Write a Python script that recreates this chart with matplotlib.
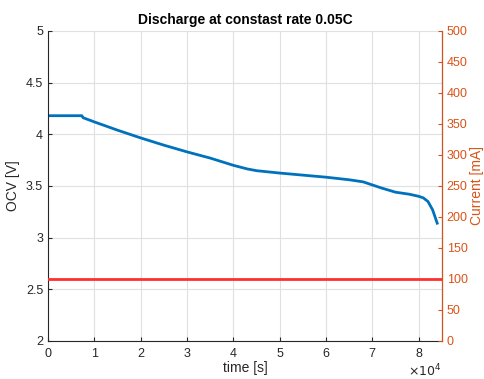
import matplotlib
matplotlib.use("Agg")
import matplotlib.pyplot as plt
import numpy as np

plt.rcParams['font.family'] = ['Liberation Sans', 'DejaVu Sans']

# Open-circuit voltage during discharge
time_s = [0, 7000, 7300, 7600, 10000, 15000, 20000, 25000, 30000, 35000,
          40000, 43000, 45000, 50000, 55000, 60000, 65000, 68000, 70000,
          72000, 75000, 78000, 80000, 81000, 82000, 83000, 84000]
ocv_v = [4.18, 4.18, 4.18, 4.16, 4.12, 4.04, 3.965, 3.895, 3.83, 3.77,
         3.70, 3.665, 3.648, 3.625, 3.605, 3.585, 3.56, 3.54, 3.51,
         3.48, 3.44, 3.42, 3.40, 3.385, 3.35, 3.27, 3.14]

# Applied discharge current
current_t = [0, 85000]
current_ma = [100, 100]

blue = '#0072BD'
orange = '#D95319'

fig = plt.figure(figsize=(4.85, 3.79), dpi=100)
ax = fig.add_axes([0.099, 0.1003, 0.812, 0.818])

ax.plot(time_s, ocv_v, color=blue, lw=2)
ax.set_xlim(0, 85000)
ax.set_ylim(2, 5)
ax.set_yticks([2, 2.5, 3, 3.5, 4, 4.5, 5])
ax.set_yticklabels(['2', '2.5', '3', '3.5', '4', '4.5', '5'])
ax.set_xticks(np.arange(0, 9) * 1e4)
ax.set_xticklabels([str(i) for i in range(9)])
ax.grid(True, color='#E0E0E0', lw=0.8)
ax.set_axisbelow(True)
ax.set_xlabel('time [s]', fontsize=10, color='#262626', labelpad=1)
ax.set_ylabel('OCV [V]', fontsize=10, color='#262626', labelpad=4)
ax.set_title('Discharge at constast rate 0.05C', fontsize=10, fontweight='bold', pad=5)
ax.tick_params(axis='both', labelsize=9, colors='#262626', direction='in', length=3)
ax.tick_params(axis='x', pad=5)
ax.text(1.0, -0.113, r'$\times10^4$', transform=ax.transAxes, ha='right',
        va='baseline', fontsize=9, color='#262626')
ax.spines['top'].set_visible(False)
ax.spines['left'].set_color('#262626')
ax.spines['bottom'].set_color('#262626')

ax2 = ax.twinx()
ax2.plot(current_t, current_ma, color='#FF3030', lw=2)
ax2.set_ylim(0, 500)
ax2.set_yticks(np.arange(0, 501, 50))
ax2.tick_params(axis='y', labelsize=9, colors=orange, direction='in', length=3)
ax2.set_ylabel('Current [mA]', fontsize=10, color=orange, labelpad=2)
ax2.spines['right'].set_color(orange)
ax2.spines['top'].set_visible(False)
ax2.spines['left'].set_visible(False)
ax2.spines['bottom'].set_visible(False)

fig.savefig('out.png', dpi=100)
